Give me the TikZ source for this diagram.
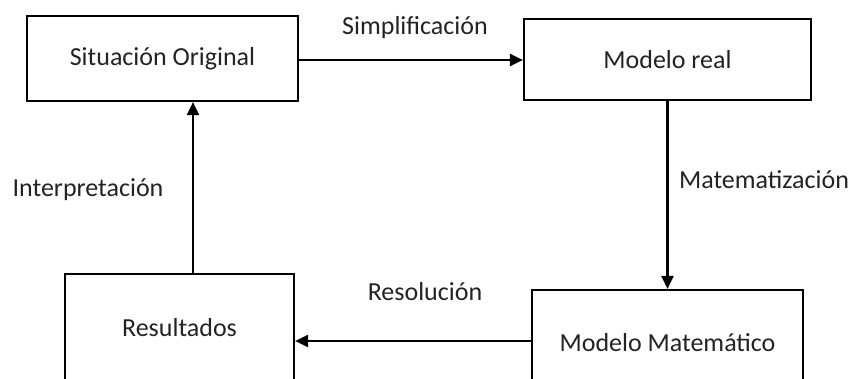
\documentclass[tikz,border=0pt]{standalone}
\usepackage{fontspec}
\setmainfont{Carlito}
\usetikzlibrary{arrows.meta}
\definecolor{txt}{RGB}{35,35,35}
\tikzset{
  box/.style={draw=black, line width=2.2pt, rectangle, inner sep=0pt, text=txt, font=\fontsize{26}{30}\selectfont},
  lbl/.style={text=txt, font=\fontsize{26}{30}\selectfont, inner sep=0pt},
  conn/.style={line width=2.2pt, -{Triangle[length=13pt,width=12pt]}}
}
\begin{document}
\begin{tikzpicture}[x=1pt,y=-1pt]
\useasboundingbox (0,0) rectangle (859,379);
\clip (0,0) rectangle (859,379);
\node[box, minimum width=271pt, minimum height=85pt] (so) at (162.5,58.5) {Situación Original};
\node[box, minimum width=287pt, minimum height=81pt] (mr) at (667.5,59.5) {Modelo real};
\node[box, minimum width=229pt, minimum height=108pt] (res) at (179.5,328) {Resultados};
\node[box, minimum width=271pt, minimum height=106pt] (mm) at (667.5,343) {Modelo Matemático};
\draw[conn] ([yshift=-1.5pt]so.east) -- ([yshift=-1.5pt]so.east -| mr.west);
\draw[conn] (mr.south) -- (mm.north);
\draw[conn] ([yshift=2pt]mm.west) -- ([yshift=2pt]mm.west -| res.east);
\draw[conn] ([xshift=13.5pt]res.north) -- ([xshift=13.5pt]res.north |- so.south);
\node[lbl] (l1) at (415,28) {Simplificación};
\node[lbl] (l2) at (764,180) {Matematización};
\node[lbl] (l3) at (425,292) {Resolución};
\node[lbl] (l4) at (88,190) {Interpretación};
\end{tikzpicture}
\end{document}
